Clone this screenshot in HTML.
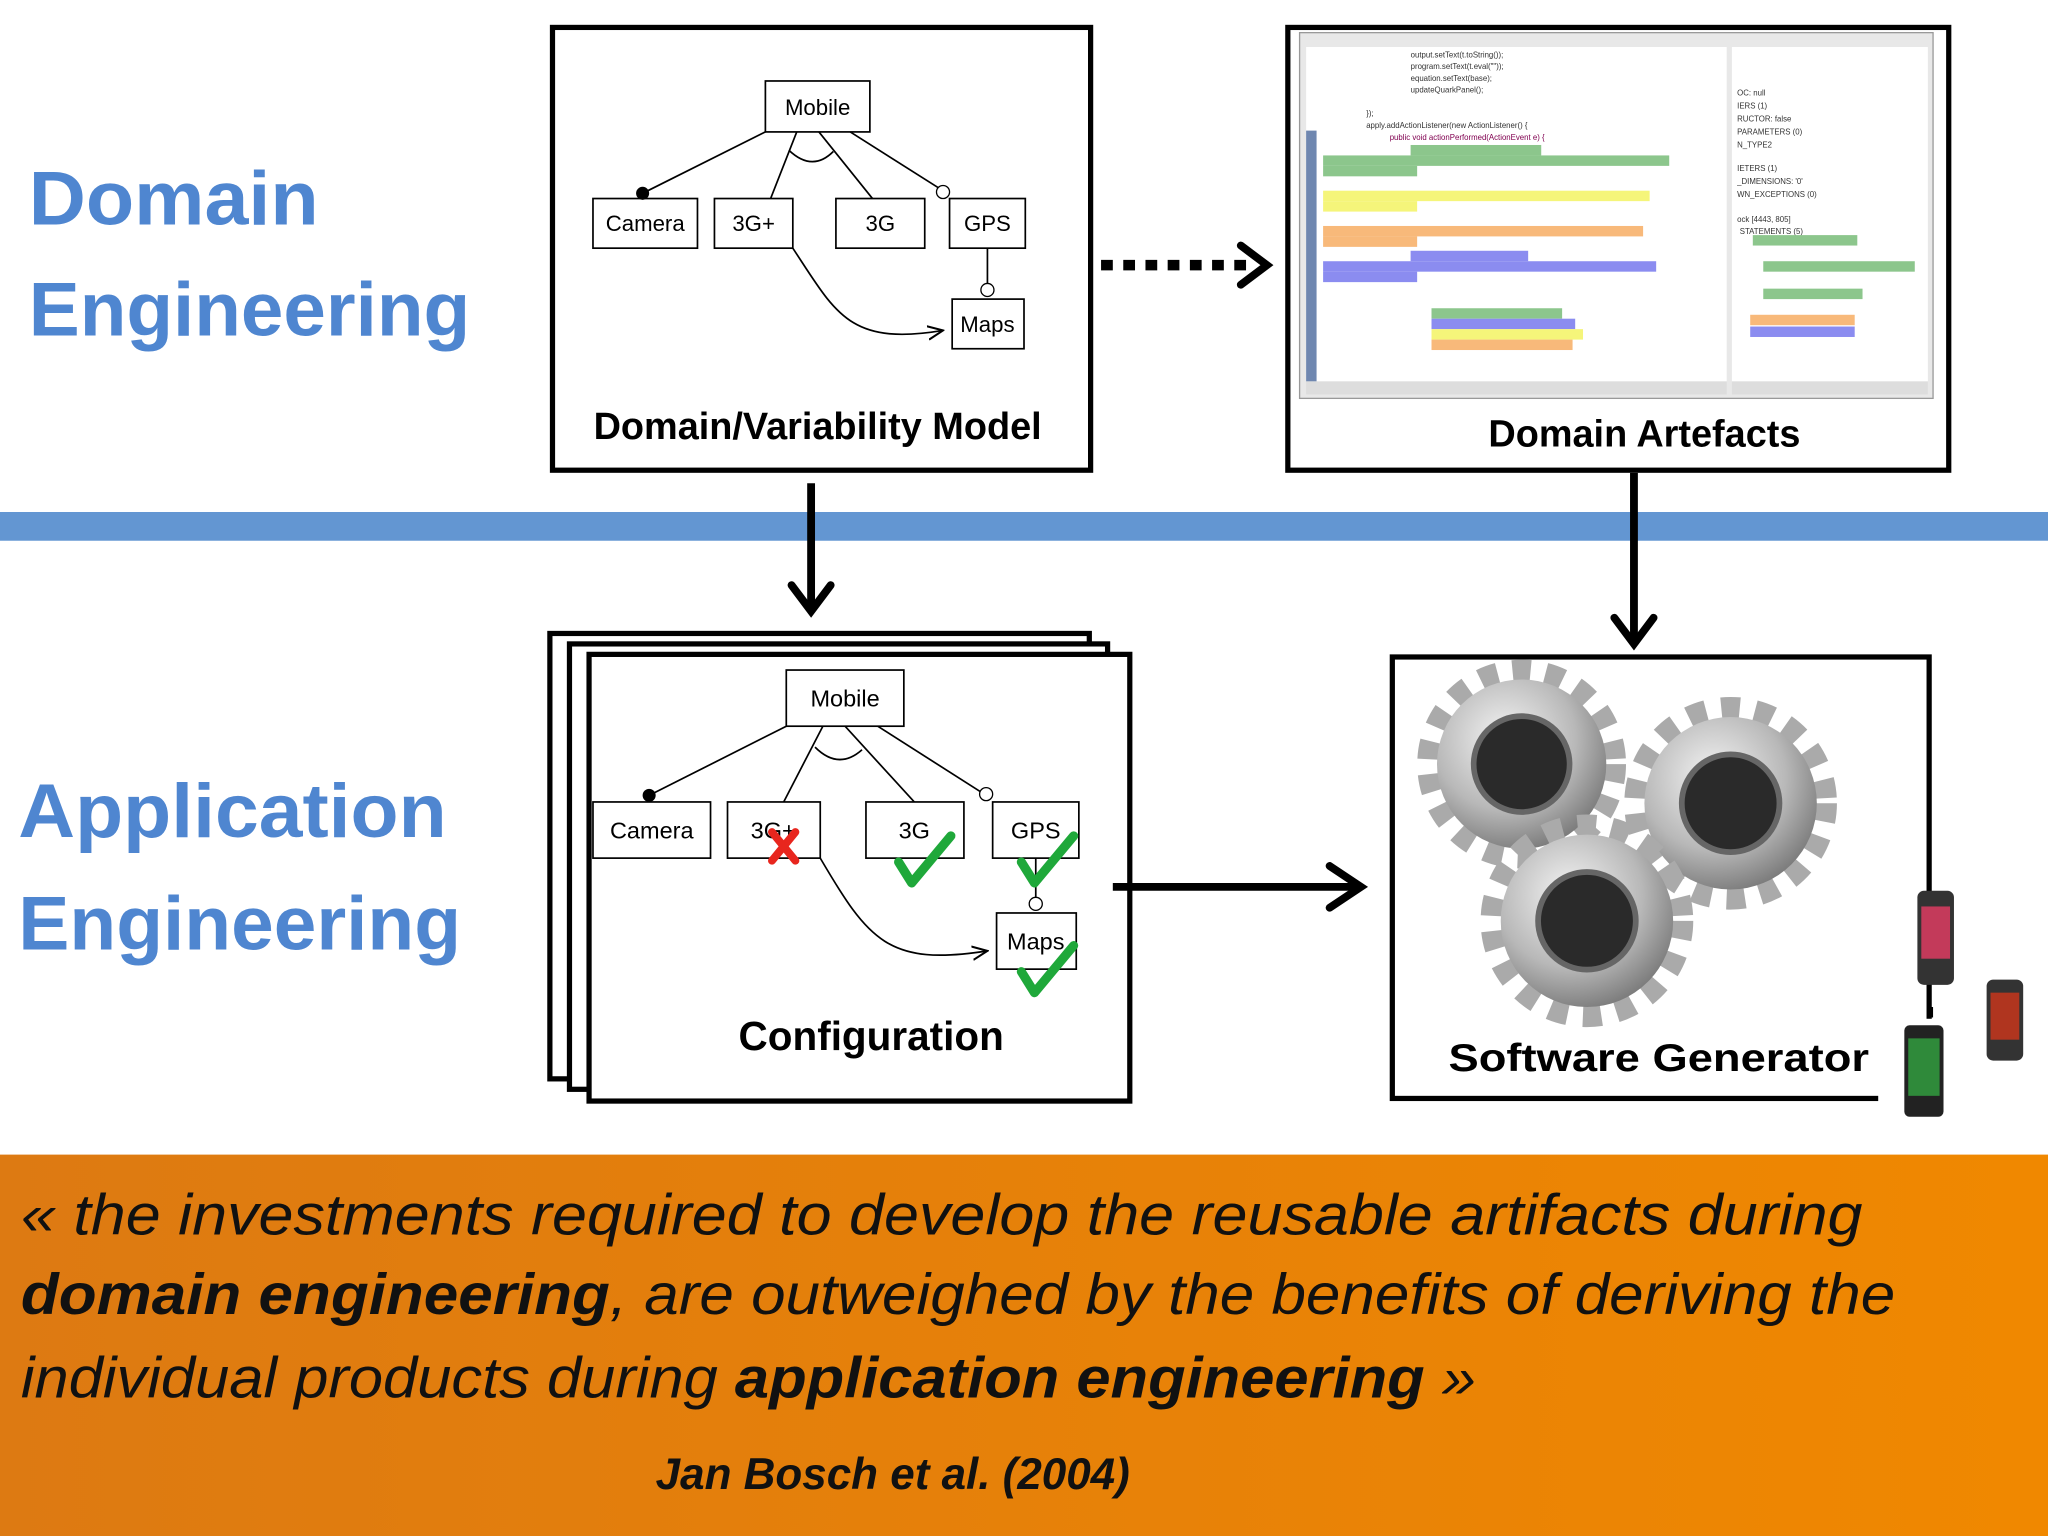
<!DOCTYPE html>
<html><head><meta charset="utf-8"><style>
html,body{margin:0;padding:0;background:#fff;width:2048px;height:1536px;overflow:hidden}
svg{display:block}
text{font-family:"Liberation Sans",sans-serif}
</style></head><body>
<svg width="2048" height="1536" viewBox="0 0 1568 1176" xmlns="http://www.w3.org/2000/svg">
<defs>
<linearGradient id="og" x1="0" y1="0" x2="1" y2="0"><stop offset="0" stop-color="#dd7a12"/><stop offset="1" stop-color="#f08800"/></linearGradient>
<radialGradient id="gg" cx="0.4" cy="0.35" r="0.7"><stop offset="0" stop-color="#f4f4f4"/><stop offset="0.6" stop-color="#b8b8b8"/><stop offset="1" stop-color="#777"/></radialGradient>
<marker id="ah" markerWidth="10" markerHeight="10" refX="9" refY="5" orient="auto"><path d="M0,1 L9,5 L0,9" fill="none" stroke="#000" stroke-width="1.2"/></marker>
<g id="gear"><circle r="62" fill="none" stroke="#aaa" stroke-width="24" stroke-dasharray="12 10"/><circle r="60" fill="url(#gg)"/><circle r="34" fill="#2a2a2a"/><circle r="34" fill="none" stroke="#666" stroke-width="4"/></g>
</defs>
<rect width="1568" height="1176" fill="#fff"/>
<rect x="0" y="392" width="1568" height="22" fill="#6396d2"/>
<rect x="0" y="884" width="1568" height="292" fill="url(#og)"/>

<g font-weight="bold" fill="#4f86d0" font-size="58" lengthAdjust="spacingAndGlyphs">
<text x="22" y="172" textLength="222" lengthAdjust="spacingAndGlyphs">Domain</text><text x="22" y="257" textLength="338" lengthAdjust="spacingAndGlyphs">Engineering</text>
<text x="14" y="641" textLength="328" lengthAdjust="spacingAndGlyphs">Application</text><text x="14" y="727" textLength="339" lengthAdjust="spacingAndGlyphs">Engineering</text>
</g>

<!-- Box1 -->
<rect x="423" y="21" width="412" height="339" fill="#fff" stroke="#000" stroke-width="4"/>
<g stroke="#000" stroke-width="1.3" fill="#fff" font-size="17">
<rect x="586" y="62" width="80" height="39"/>
<rect x="454" y="152" width="80" height="38"/><rect x="547" y="152" width="60" height="38"/>
<rect x="640" y="152" width="68" height="38"/><rect x="727" y="152" width="58" height="38"/>
<rect x="729" y="229" width="55" height="38"/>
<line x1="586" y1="101" x2="492" y2="148"/><line x1="610" y1="101" x2="590" y2="152"/>
<line x1="627" y1="101" x2="668" y2="152"/><line x1="651" y1="101" x2="722" y2="146"/>
<path d="M604,115 Q622,132 638,116" fill="none"/>
<line x1="756" y1="190" x2="756" y2="218"/>
<path d="M607,190 C640,240 650,265 722,253" fill="none" marker-end="url(#ah)"/>
</g>
<circle cx="492" cy="148" r="5" fill="#000"/><circle cx="722" cy="147" r="5" fill="#fff" stroke="#000"/><circle cx="756" cy="222" r="5" fill="#fff" stroke="#000"/>
<g font-size="17" text-anchor="middle"><text x="626" y="88">Mobile</text><text x="494" y="177">Camera</text><text x="577" y="177">3G+</text><text x="674" y="177">3G</text><text x="756" y="177">GPS</text><text x="756" y="254">Maps</text></g>
<text x="626" y="336" font-size="29" font-weight="bold" text-anchor="middle">Domain/Variability Model</text>

<!-- dotted arrow -->
<line x1="843" y1="203" x2="958" y2="203" stroke="#000" stroke-width="8" stroke-dasharray="9 8"/>
<path d="M950,188 L970,203 L950,218" fill="none" stroke="#000" stroke-width="6" stroke-linecap="round"/>

<!-- Box2 -->
<rect x="986" y="21" width="506" height="339" fill="#fff" stroke="#000" stroke-width="4"/>
<rect x="995" y="25" width="485" height="280" fill="#e8e8e8" stroke="#999"/>
<rect x="1000" y="36" width="322" height="256" fill="#fff"/>
<rect x="1000" y="100" width="8" height="192" fill="#6f87b0"/>
<rect x="1326" y="36" width="150" height="256" fill="#fff"/>
<rect x="1000" y="292" width="322" height="10" fill="#ddd"/><rect x="1326" y="292" width="150" height="10" fill="#ddd"/>
<g font-size="6" fill="#333" font-family="Liberation Mono">
<text x="1080" y="44">output.setText(t.toString());</text><text x="1080" y="53">program.setText(t.eval(""));</text>
<text x="1080" y="62">equation.setText(base);</text><text x="1080" y="71">updateQuarkPanel();</text>
<text x="1046" y="89">});</text><text x="1046" y="98">apply.addActionListener(new ActionListener() {</text>
<text x="1064" y="107" fill="#800050">public void actionPerformed(ActionEvent e) {</text>
<text x="1330" y="73">OC: null</text><text x="1330" y="83">IERS (1)</text><text x="1330" y="93">RUCTOR: false</text><text x="1330" y="103">PARAMETERS (0)</text><text x="1330" y="113">N_TYPE2</text>
<text x="1330" y="131">IETERS (1)</text><text x="1330" y="141">_DIMENSIONS: '0'</text><text x="1330" y="151">WN_EXCEPTIONS (0)</text>
<text x="1330" y="170">ock [4443, 805]</text><text x="1332" y="179">STATEMENTS (5)</text>
</g>
<g>
<rect x="1080" y="111" width="100" height="8" fill="#8cc68c"/><rect x="1013" y="119" width="265" height="8" fill="#8cc68c"/><rect x="1013" y="127" width="72" height="8" fill="#8cc68c"/>
<rect x="1013" y="146" width="250" height="8" fill="#f5f57a"/><rect x="1013" y="154" width="72" height="8" fill="#f5f57a"/>
<rect x="1013" y="173" width="245" height="8" fill="#f8b97a"/><rect x="1013" y="181" width="72" height="8" fill="#f8b97a"/>
<rect x="1080" y="192" width="90" height="8" fill="#8b8cf0"/><rect x="1013" y="200" width="255" height="8" fill="#8b8cf0"/><rect x="1013" y="208" width="72" height="8" fill="#8b8cf0"/>
<rect x="1096" y="236" width="100" height="8" fill="#8cc68c"/><rect x="1096" y="244" width="110" height="8" fill="#8b8cf0"/><rect x="1096" y="252" width="116" height="8" fill="#f5f57a"/><rect x="1096" y="260" width="108" height="8" fill="#f8b97a"/>
<rect x="1342" y="180" width="80" height="8" fill="#8cc68c"/><rect x="1350" y="200" width="116" height="8" fill="#8cc68c"/><rect x="1350" y="221" width="76" height="8" fill="#8cc68c"/><rect x="1340" y="241" width="80" height="8" fill="#f8b97a"/><rect x="1340" y="250" width="80" height="8" fill="#8b8cf0"/>
</g>
<text x="1259" y="342" font-size="29" font-weight="bold" text-anchor="middle">Domain Artefacts</text>

<!-- down arrows -->
<line x1="621" y1="370" x2="621" y2="468" stroke="#000" stroke-width="6"/>
<path d="M606,448 L621,468 L636,448" fill="none" stroke="#000" stroke-width="6" stroke-linecap="round"/>
<line x1="1251" y1="362" x2="1251" y2="493" stroke="#000" stroke-width="6"/>
<path d="M1236,473 L1251,493 L1266,473" fill="none" stroke="#000" stroke-width="6" stroke-linecap="round"/>

<!-- Config stack -->
<rect x="421" y="485" width="413" height="341" fill="#fff" stroke="#000" stroke-width="4"/>
<rect x="436" y="493" width="412" height="341" fill="#fff" stroke="#000" stroke-width="4"/>
<rect x="451" y="501" width="414" height="342" fill="#fff" stroke="#000" stroke-width="4"/>
<g stroke="#000" stroke-width="1.3" fill="#fff">
<rect x="602" y="513" width="90" height="43"/>
<rect x="454" y="614" width="90" height="43"/><rect x="557" y="614" width="71" height="43"/>
<rect x="663" y="614" width="75" height="43"/><rect x="760" y="614" width="66" height="43"/>
<rect x="763" y="699" width="61" height="43"/>
<line x1="602" y1="556" x2="497" y2="609"/><line x1="630" y1="556" x2="600" y2="614"/>
<line x1="647" y1="556" x2="700" y2="614"/><line x1="672" y1="556" x2="752" y2="607"/>
<path d="M624,572 Q642,590 660,574" fill="none"/>
<line x1="793" y1="657" x2="793" y2="688"/>
<path d="M628,657 C665,720 680,740 756,728" fill="none" marker-end="url(#ah)"/>
</g>
<circle cx="497" cy="609" r="5" fill="#000"/><circle cx="755" cy="608" r="5" fill="#fff" stroke="#000"/><circle cx="793" cy="692" r="5" fill="#fff" stroke="#000"/>
<g font-size="18" text-anchor="middle"><text x="647" y="541">Mobile</text><text x="499" y="642">Camera</text><text x="592" y="642">3G+</text><text x="700" y="642">3G</text><text x="793" y="642">GPS</text><text x="793" y="727">Maps</text></g>
<g stroke="#e8261e" stroke-width="6" stroke-linecap="round"><line x1="591" y1="637" x2="609" y2="659"/><line x1="609" y1="637" x2="591" y2="659"/></g>
<g fill="none" stroke="#1fa83a" stroke-width="7" stroke-linecap="round" stroke-linejoin="round">
<path d="M688,660 L698,676 L728,640"/><path d="M782,660 L792,676 L822,640"/><path d="M782,744 L792,760 L822,724"/>
</g>
<text x="667" y="804" font-size="31" font-weight="bold" text-anchor="middle">Configuration</text>

<!-- right arrow -->
<line x1="852" y1="679" x2="1040" y2="679" stroke="#000" stroke-width="6"/>
<path d="M1018,663 L1042,679 L1018,695" fill="none" stroke="#000" stroke-width="6" stroke-linecap="round"/>

<!-- Generator -->
<rect x="1066" y="503" width="411" height="338" fill="#fff" stroke="#000" stroke-width="4"/>
<use href="#gear" transform="translate(1165,585) scale(1.08)"/>
<use href="#gear" transform="translate(1325,615) scale(1.1)"/>
<use href="#gear" transform="translate(1215,705) scale(1.1)"/>
<rect x="1438" y="780" width="60" height="70" fill="#fff"/>
<rect x="1468" y="682" width="28" height="72" rx="5" fill="#333"/><rect x="1471" y="694" width="22" height="40" fill="#c33a5a"/>
<rect x="1458" y="785" width="30" height="70" rx="4" fill="#222"/><rect x="1461" y="795" width="24" height="44" fill="#2f8a3a"/>
<rect x="1521" y="750" width="28" height="62" rx="5" fill="#333"/><rect x="1524" y="760" width="22" height="36" fill="#b0351f"/>
<rect x="1476" y="771" width="4" height="8" fill="#000"/>
<text x="1270" y="820" font-size="30" font-weight="bold" text-anchor="middle" textLength="322" lengthAdjust="spacingAndGlyphs">Software Generator</text>

<!-- quote -->
<g font-size="44" font-style="italic" fill="#111">
<text x="16" y="945" textLength="1410" lengthAdjust="spacingAndGlyphs">« the investments required to develop the reusable artifacts during</text>
<text x="16" y="1006" textLength="1435" lengthAdjust="spacingAndGlyphs"><tspan font-weight="bold">domain engineering</tspan>, are outweighed by the benefits of deriving the</text>
<text x="16" y="1070" textLength="1114" lengthAdjust="spacingAndGlyphs">individual products during <tspan font-weight="bold">application engineering</tspan> »</text>
<text x="502" y="1140" font-size="34" font-weight="bold" textLength="363" lengthAdjust="spacingAndGlyphs">Jan Bosch et al. (2004)</text>
</g>
</svg>
</body></html>
